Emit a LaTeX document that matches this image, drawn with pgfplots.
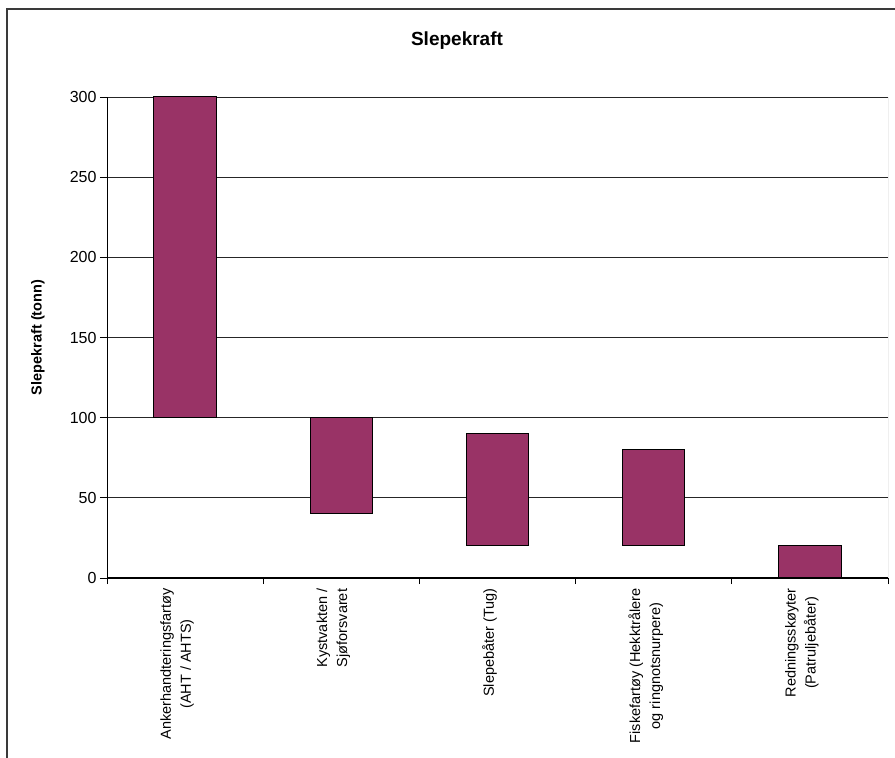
\documentclass[border=0pt]{standalone}
\usepackage{pgfplots}
\pgfplotsset{compat=1.18}
\usepackage{pgfplotstable}
\usepackage{fontspec}
\setmainfont{Liberation Sans}

\definecolor{barplum}{HTML}{993366}
\definecolor{framegray}{HTML}{3A3A3A}

% towing force ranges (tonnes) for each vessel type
\pgfplotstableread{
idx low high
0 100 300
1 40 100
2 20 90
3 20 80
4 0 20
}\slepedata

\begin{document}
\begin{tikzpicture}[x=1pt,y=1pt]
\useasboundingbox (0,0) rectangle (895,758);
% chart frame
\draw[framegray, line width=1.4pt] (7,-20) -- (7,749) -- (920,749);
% title
\node[font=\fontsize{19}{22}\selectfont\bfseries] at (457,717) {Slepekraft};
\begin{axis}[
  at={(107pt,180pt)}, anchor=south west,
  width=781pt, height=481pt, scale only axis,
  xmin=-0.5, xmax=4.5, ymin=0, ymax=300,
  axis x line*=bottom, axis y line*=left,
  axis line style={black, line width=1pt},
  ytick={0,50,...,300},
  ymajorgrids, grid style={black!85, line width=0.9pt},
  ytick style={black, line width=0.9pt},
  major tick length=7pt,
  tick align=outside,
  xtick={0,1,2,3,4},
  major x tick style={draw=none},
  minor xtick={-0.5,0.5,1.5,2.5,3.5,4.5},
  minor tick length=6pt,
  minor x tick style={draw=black, line width=0.9pt},
  xticklabels={{Ankerhandteringsfartøy\\(AHT / AHTS)},
               {Kystvakten /\\Sjøforsvaret},
               {Slepebåter (Tug)},
               {Fiskefartøy (Hekktrålere\\og ringnotsnurpere)},
               {Redningsskøyter\\(Patruljebåter)}},
  xticklabel style={rotate=90, anchor=east, align=center,
    font=\fontsize{14.5}{20}\selectfont, yshift=8pt, xshift=0pt},
  yticklabel style={font=\fontsize{16}{19}\selectfont},
  /pgf/number format/assume math mode=true,
  ylabel={Slepekraft (tonn)},
  ylabel style={font=\fontsize{14.5}{17}\selectfont\bfseries,
    at={(axis description cs:-0.0884,0.5)}, anchor=center},
  ybar stacked, bar width=62.5pt,
]
\addplot[draw=none, fill=none, forget plot] table[x=idx, y=low] {\slepedata};
\addplot[fill=barplum, draw=black, line width=1pt]
  table[x=idx, y expr=\thisrow{high}-\thisrow{low}] {\slepedata};
\draw[gray, line width=1pt] (rel axis cs:1,0) -- (rel axis cs:1,1);
\end{axis}
\end{tikzpicture}
\end{document}
